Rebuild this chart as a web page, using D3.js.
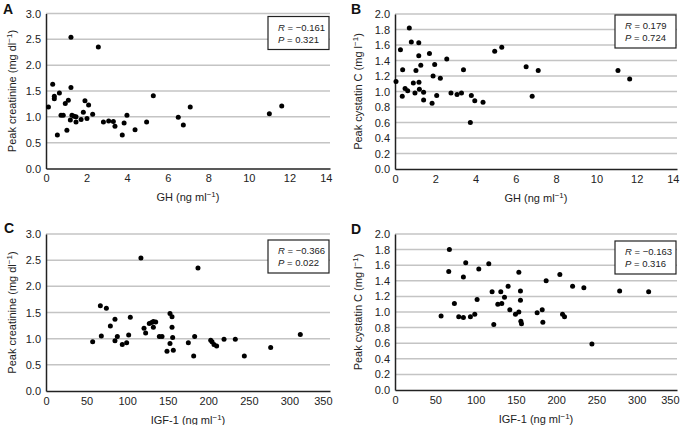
<!DOCTYPE html>
<html>
<head>
<meta charset="utf-8">
<script src="https://cdn.jsdelivr.net/npm/d3@7"></script>
<style>
  body { margin: 0; background: #fff; }
  svg { font-family: Arial, "Liberation Sans", Helvetica, sans-serif; }
</style>
</head>
<body>
<svg id="chart" width="685" height="425"></svg>
<script>
// panel A: GH vs peak creatinine
const aGH = [0.12, 0.33, 0.41, 0.41, 0.66, 0.56, 0.74, 0.85, 0.95, 1.1, 1.03, 1.23, 1.23, 1.2, 1.28, 1.38, 1.48,
  1.48, 1.73, 1.84, 1.92, 2.02, 2.1, 2.3, 2.58, 2.83, 3.09, 3.32, 3.4, 3.76, 3.85, 3.99, 4.39, 4.96, 5.29,
  6.52, 6.77, 7.11, 11.01, 11.62];
const aCreat = [1.19, 1.63, 1.35, 1.4, 1.46, 0.65, 1.03, 1.03, 1.26, 1.32, 0.74, 2.54, 1.57, 0.94, 1.03, 1.01, 1.0,
  0.9, 0.95, 1.09, 1.31, 0.97, 1.23, 1.05, 2.35, 0.9, 0.92, 0.91, 0.82, 0.65, 0.88, 1.03, 0.75, 0.9, 1.41,
  0.99, 0.84, 1.19, 1.06, 1.21];

// panel B: GH vs peak cystatin C
const bGH = [0.05, 0.27, 0.36, 0.38, 0.5, 0.63, 0.71, 0.81, 0.91, 0.99, 1.04, 1.18, 1.18, 1.19, 1.21, 1.28, 1.42,
  1.42, 1.71, 1.84, 1.89, 1.97, 2.07, 2.25, 2.57, 2.78, 3.08, 3.3, 3.4, 3.74, 3.79, 3.96, 4.37, 4.95, 5.3,
  6.51, 6.81, 7.11, 11.07, 11.65];
const bCys = [1.13, 1.54, 0.94, 1.28, 1.04, 1.01, 1.82, 1.64, 1.11, 0.98, 1.27, 1.63, 1.46, 1.12, 1.03, 1.34, 0.89,
  0.99, 1.49, 0.85, 1.2, 1.35, 0.95, 1.17, 1.42, 0.98, 0.96, 0.98, 1.28, 0.6, 0.95, 0.88, 0.86, 1.52, 1.57,
  1.32, 0.94, 1.27, 1.27, 1.16];

// panel C: IGF-1 vs peak creatinine
const cIGF = [57.5, 67, 68.2, 74.4, 79.3, 85, 85, 87.9, 94, 99.4, 101.9, 103.9, 117, 120.8, 122.8, 127.3, 130.2,
  132.3, 132.3, 135.2, 139.7, 143, 149.1, 152.8, 152.8, 155.3, 155.3, 156.1, 156.9, 175.4, 182, 183.2, 187.3,
  203, 204.6, 207, 210.3, 219.4, 233.3, 244.4, 276.9, 313.4];
const cCreat = [0.94, 1.63, 1.05, 1.58, 1.24, 1.37, 0.96, 1.04, 0.89, 0.92, 1.07, 1.41, 2.54, 1.2, 1.11, 1.29, 1.31,
  1.22, 1.33, 1.32, 1.04, 1.04, 0.76, 1.48, 0.91, 1.42, 1.22, 1.02, 0.78, 0.92, 0.67, 1.04, 2.35,
  0.97, 0.94, 0.89, 0.86, 0.99, 0.99, 0.67, 0.83, 1.08];

// panel D: IGF-1 vs peak cystatin C
const dIGF = [57.2, 66.7, 67.5, 73.7, 79.1, 84.9, 84.9, 87.8, 93.6, 99, 101.9, 104, 116.4, 120.5, 122.6, 127.6, 131.3,
  132.5, 135.9, 140.4, 142.5, 149.5, 153.7, 153.7, 155.7, 155.7, 156.2, 157, 176.4, 182.7, 183.5, 187.6,
  204.6, 207.9, 210.4, 220.4, 234.4, 244.4, 278.8, 314.8];
const dCys = [0.95, 1.52, 1.8, 1.11, 0.94, 1.45, 0.93, 1.63, 0.94, 0.97, 1.16, 1.55, 1.62, 1.26, 0.84, 1.1, 1.26,
  1.11, 1.19, 1.33, 1.03, 0.97, 1.51, 1.0, 1.27, 1.15, 0.88, 0.85, 0.99, 1.03, 0.87, 1.4,
  1.48, 0.97, 0.94, 1.33, 1.31, 0.59, 1.27, 1.26];

const ghTicks = [0, 2, 4, 6, 8, 10, 12, 14];
const igfTicks = [0, 50, 100, 150, 200, 250, 300, 350];
const creatTicks = [0, 0.5, 1, 1.5, 2, 2.5, 3];
const cysTicks = [0, 0.2, 0.4, 0.6, 0.8, 1, 1.2, 1.4, 1.6, 1.8, 2];

const stats = {
  A: ["−0.161", "0.321"],
  B: ["0.179", "0.724"],
  C: ["−0.366", "0.022"],
  D: ["−0.163", "0.316"]
};

const svg = d3.select("#chart");

const panels = [
  { id: "A", x: aGH, y: aCreat, xt: ghTicks, yt: creatTicks, left: 46, right: 330, top: 13.5, bottom: 168.5,
    labX: 3, labY: 14, titleX: 12, xTitle: "GH", yTitle: "Peak creatinine (mg dl", boxTop: 3 },
  { id: "B", x: bGH, y: bCys, xt: ghTicks, yt: cysTicks, left: 395, right: 677, top: 14, bottom: 169,
    labX: 351, labY: 14, titleX: 358, xTitle: "GH", yTitle: "Peak cystatin C (mg l", boxTop: 1 },
  { id: "C", x: cIGF, y: cCreat, xt: igfTicks, yt: creatTicks, left: 46, right: 330, top: 234, bottom: 391,
    labX: 4, labY: 233, titleX: 12, xTitle: "IGF-1", yTitle: "Peak creatinine (mg dl", boxTop: 6 },
  { id: "D", x: dIGF, y: dCys, xt: igfTicks, yt: cysTicks, left: 395, right: 677, top: 234, bottom: 390,
    labX: 351, labY: 234, titleX: 358, xTitle: "IGF-1", yTitle: "Peak cystatin C (mg l", boxTop: 7 }
];

panels.forEach(p => {
  const g = svg.append("g");

  const x = d3.scaleLinear()
    .domain(d3.extent(p.xt))
    .range([p.left, p.right]);
  const y = d3.scaleLinear()
    .domain(d3.extent(p.yt))
    .range([p.bottom, p.top]);

  // gridlines (all but zero)
  g.selectAll(".grid")
    .data(p.yt.filter(d => d > 0))
    .join("line")
    .attr("x1", p.left)
    .attr("x2", p.right)
    .attr("y1", d => y(d))
    .attr("y2", d => y(d))
    .attr("stroke", "#c4c4c4")
    .attr("stroke-width", 1.5);

  // axes, no tick marks
  const yAxis = g.append("g")
    .attr("transform", `translate(${p.left},0)`)
    .call(d3.axisLeft(y).tickValues(p.yt).tickFormat(d3.format(".1f")).tickSize(0).tickPadding(5));
  const xAxis = g.append("g")
    .attr("transform", `translate(0,${p.bottom})`)
    .call(d3.axisBottom(x).tickValues(p.xt).tickFormat(d3.format("d")).tickSize(0).tickPadding(6));

  [yAxis, xAxis].forEach(a => {
    a.select(".domain").attr("stroke", "#222").attr("stroke-width", 1.5);
    a.selectAll("text").attr("font-size", 11).attr("fill", "#222").attr("font-family", null);
  });

  // last x label is pulled in so it stays inside the frame
  xAxis.selectAll(".tick text")
    .filter(d => d === p.xt[p.xt.length - 1])
    .attr("text-anchor", "end")
    .attr("x", 2);

  // dots
  g.selectAll(".dot")
    .data(p.x.map((v, i) => [v, p.y[i]]))
    .join("circle")
    .attr("cx", d => x(d[0]))
    .attr("cy", d => y(d[1]))
    .attr("r", 2.5)
    .attr("fill", "#000");

  // panel letter
  g.append("text")
    .attr("x", p.labX)
    .attr("y", p.labY)
    .attr("font-size", 14)
    .attr("font-weight", "bold")
    .attr("fill", "#111")
    .text(p.id);

  // x title with superscript
  const xt = g.append("text")
    .attr("x", (p.left + p.right) / 2)
    .attr("y", p.bottom + 32.5)
    .attr("text-anchor", "middle")
    .attr("font-size", 11)
    .attr("fill", "#222");
  xt.append("tspan").text(p.xTitle + " (ng ml");
  xt.append("tspan").attr("dy", -4).attr("font-size", 8).text("−1");
  xt.append("tspan").attr("dy", 4).text(")");

  // y title
  const yt = g.append("text")
    .attr("transform", `translate(${p.titleX + 4},${(p.top + p.bottom) / 2}) rotate(-90)`)
    .attr("text-anchor", "middle")
    .attr("font-size", 11)
    .attr("fill", "#222");
  yt.append("tspan").text(p.yTitle);
  yt.append("tspan").attr("dy", -4).attr("font-size", 8).text("−1");
  yt.append("tspan").attr("dy", 4).text(")");

  // stats box
  const bw = 61, bh = 33;
  const bx = p.right - 1 - bw, by = p.top + p.boxTop;
  g.append("rect")
    .attr("x", bx)
    .attr("y", by)
    .attr("width", bw)
    .attr("height", bh)
    .attr("fill", "#fff")
    .attr("stroke", "#222")
    .attr("stroke-width", 1.2);
  const s = stats[p.id];
  const r1 = g.append("text").attr("x", bx + 10).attr("y", by + 14).attr("font-size", 9.5).attr("fill", "#222");
  r1.append("tspan").attr("font-style", "italic").text("R");
  r1.append("tspan").text(" = " + s[0]);
  const r2 = g.append("text").attr("x", bx + 10).attr("y", by + 26).attr("font-size", 9.5).attr("fill", "#222");
  r2.append("tspan").attr("font-style", "italic").text("P");
  r2.append("tspan").text(" = " + s[1]);
});
</script>
</body>
</html>
